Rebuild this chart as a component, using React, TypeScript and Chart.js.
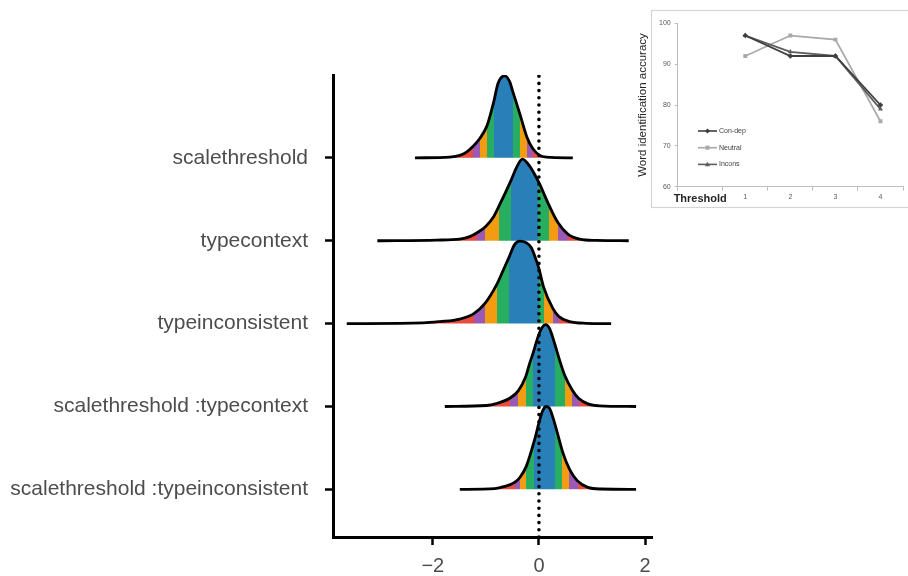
import React, { useEffect, useRef } from 'react';
import { Chart, registerables } from 'chart.js';

Chart.register(...registerables);

// ---------- main ridgeline data ----------
const CATEGORIES = [
  'scalethreshold',
  'typecontext',
  'typeinconsistent',
  'scalethreshold :typecontext',
  'scalethreshold :typeinconsistent',
];
const BASELINES = [5, 4, 3, 2, 1];
const X_TICKS = [-2, 0, 2];
const REF_X = 0;
const X_MIN = -3.88;
const X_MAX = 2.13;
const Y_MIN = 0.425;
const Y_MAX = 6.0;

const R1_X = [-2.336, -1.679, -1.491, -1.365, -1.24, -1.115, -0.977, -0.852, -0.77, -0.645, -0.551, -0.5, -0.35, -0.226, -0.113, 0.013, 0.139, 0.639];
const R1_H = [0, 0.01, 0.03, 0.07, 0.14, 0.233, 0.39, 0.675, 0.9, 0.99, 0.92, 0.815, 0.51, 0.25, 0.11, 0.03, 0.008, 0];
const R1_BANDS = [-1.245, -1.115, -0.977, -0.852, -0.495, -0.35, -0.226, -0.113];

const R2_X = [-3.045, -1.929, -1.491, -1.303, -1.158, -1.008, -0.864, -0.752, -0.532, -0.425, -0.312, -0.175, 0.0, 0.182, 0.357, 0.545, 0.765, 1.078, 1.692];
const R2_H = [0, 0.008, 0.02, 0.05, 0.1, 0.17, 0.28, 0.42, 0.72, 0.88, 0.984, 0.9, 0.7, 0.44, 0.22, 0.08, 0.02, 0.004, 0];
const R2_BANDS = [-1.16, -1.008, -0.752, -0.53, -0.025, 0.185, 0.36, 0.545];

const R3_X = [-3.621, -2.18, -1.867, -1.491, -1.227, -1.021, -0.789, -0.676, -0.564, -0.457, -0.363, -0.237, -0.143, -0.049, 0.001, 0.088, 0.264, 0.376, 0.577, 0.89, 1.36];
const R3_H = [0, 0.008, 0.024, 0.055, 0.12, 0.24, 0.48, 0.64, 0.8, 0.956, 0.996, 0.976, 0.916, 0.76, 0.66, 0.44, 0.18, 0.085, 0.024, 0.004, 0];
const R3_BANDS = [-1.227, -1.021, -0.789, -0.564, 0.0, 0.088, 0.263, 0.376];

const R4_X = [-1.773, -0.989, -0.802, -0.551, -0.394, -0.25, -0.175, -0.112, -0.018, 0.063, 0.126, 0.201, 0.295, 0.389, 0.483, 0.627, 0.752, 0.922, 1.141, 1.83];
const R4_H = [0, 0.012, 0.035, 0.1, 0.185, 0.36, 0.52, 0.64, 0.84, 0.956, 0.988, 0.94, 0.76, 0.56, 0.38, 0.2, 0.095, 0.032, 0.008, 0];
const R4_BANDS = [-0.551, -0.395, -0.25, -0.113, 0.295, 0.483, 0.628, 0.752];

const R5_X = [-1.491, -0.833, -0.645, -0.457, -0.363, -0.237, -0.081, 0.013, 0.076, 0.139, 0.201, 0.295, 0.452, 0.577, 0.721, 0.922, 1.172, 1.83];
const R5_H = [0, 0.008, 0.035, 0.085, 0.14, 0.28, 0.6, 0.835, 0.956, 1.0, 0.976, 0.8, 0.44, 0.24, 0.105, 0.024, 0.004, 0];
const R5_BANDS = [-0.457, -0.363, -0.237, -0.09, 0.31, 0.436, 0.562, 0.727];

const RIDGE_X = [R1_X, R2_X, R3_X, R4_X, R5_X];
const RIDGE_H = [R1_H, R2_H, R3_H, R4_H, R5_H];
const RIDGE_BANDS = [R1_BANDS, R2_BANDS, R3_BANDS, R4_BANDS, R5_BANDS];

const BAND_COLORS = ['#e74c3c', '#9b59b6', '#f39c12', '#27ae60', '#2980b9', '#27ae60', '#f39c12', '#9b59b6', '#e74c3c'];

// ---------- inset data ----------
const THRESHOLDS = ['Threshold', '1', '2', '3', '4'];
const CON_DEP = [null, 97, 92, 92, 80];
const NEUTRAL = [null, 92, 97, 96, 76];
const INCONS = [null, 97, 93, 92, 79];
const SERIES_NAMES = ['Con-dep', 'Neutral', 'Incons'];

const FONT = "'Liberation Sans', Arial, sans-serif";

function bandGradient(context: any, bands: number[]) {
  const chart = context.chart;
  const area = chart.chartArea;
  if (!area) return 'rgba(0,0,0,0)';
  const xs = chart.scales.x;
  const x0 = area.left;
  const x1 = area.right;
  const g = chart.ctx.createLinearGradient(x0, 0, x1, 0);
  const t = (v: number) => Math.min(1, Math.max(0, (xs.getPixelForValue(v) - x0) / (x1 - x0)));
  g.addColorStop(0, BAND_COLORS[0]);
  bands.forEach((b, i) => {
    const p = t(b);
    g.addColorStop(p, BAND_COLORS[i]);
    g.addColorStop(p, BAND_COLORS[i + 1]);
  });
  g.addColorStop(1, BAND_COLORS[BAND_COLORS.length - 1]);
  return g;
}

function drawMarker(ctx: CanvasRenderingContext2D, style: string, x: number, y: number, r: number) {
  ctx.beginPath();
  if (style === 'rectRot') {
    ctx.moveTo(x, y - r);
    ctx.lineTo(x + r, y);
    ctx.lineTo(x, y + r);
    ctx.lineTo(x - r, y);
  } else if (style === 'rect') {
    ctx.rect(x - r * 0.8, y - r * 0.8, r * 1.6, r * 1.6);
  } else {
    ctx.moveTo(x, y - r);
    ctx.lineTo(x + r, y + r * 0.7);
    ctx.lineTo(x - r, y + r * 0.7);
  }
  ctx.closePath();
  ctx.fill();
}

export default function App() {
  const mainRef = useRef<HTMLCanvasElement | null>(null);
  const insetRef = useRef<HTMLCanvasElement | null>(null);

  useEffect(() => {
    const datasets: any[] = RIDGE_X.map((xs, i) => ({
      label: CATEGORIES[i],
      data: xs.map((x, j) => ({ x, y: BASELINES[i] + RIDGE_H[i][j] })),
      borderColor: '#000',
      borderWidth: 2.8,
      pointRadius: 0,
      cubicInterpolationMode: 'monotone',
      fill: { value: BASELINES[i] },
      backgroundColor: (c: any) => bandGradient(c, RIDGE_BANDS[i]),
      order: 10 - i,
    }));
    datasets.push({
      label: 'ref',
      data: [
        { x: REF_X, y: Y_MIN },
        { x: REF_X, y: Y_MAX },
      ],
      borderColor: '#000',
      borderWidth: 3.6,
      borderDash: [0, 7.2],
      borderCapStyle: 'round',
      pointRadius: 0,
      fill: false,
      order: 0,
    });

    const main = new Chart(mainRef.current!, {
      type: 'line',
      data: { datasets },
      options: {
        animation: false,
        responsive: false,
        events: [],
        layout: { padding: { top: 75, right: 256, left: 0, bottom: 0 } },
        plugins: { legend: { display: false }, tooltip: { enabled: false } },
        scales: {
          x: {
            type: 'linear',
            min: X_MIN,
            max: X_MAX,
            afterBuildTicks: (s: any) => {
              s.ticks = X_TICKS.map((v) => ({ value: v }));
            },
            afterFit: (s: any) => {
              s.height = 39;
            },
            grid: { display: true, drawOnChartArea: false, drawTicks: true, tickLength: 8, tickWidth: 2.5, tickColor: '#000' },
            border: { display: true, color: '#000', width: 3 },
            ticks: {
              padding: 9,
              color: '#4d4d4d',
              font: { family: FONT, size: 20 },
              callback: (v: any) => (Number(v) < 0 ? '\u2212' + Math.abs(Number(v)) : String(v)),
            },
          },
          y: {
            type: 'linear',
            min: Y_MIN,
            max: Y_MAX,
            afterBuildTicks: (s: any) => {
              s.ticks = BASELINES.map((v) => ({ value: v }));
            },
            afterFit: (s: any) => {
              s.width = 333;
            },
            grid: { display: true, drawOnChartArea: false, drawTicks: true, tickLength: 8, tickWidth: 2.5, tickColor: '#000' },
            border: { display: true, color: '#000', width: 3 },
            ticks: {
              padding: 17,
              color: '#4d4d4d',
              font: { family: FONT, size: 21 },
              callback: (v: any) => {
                const idx = BASELINES.indexOf(Number(v));
                return idx >= 0 ? CATEGORIES[idx] : '';
              },
            },
          },
        },
      } as any,
    });

    const seriesStyles = [
      { data: CON_DEP, color: '#3f3f3f', point: 'rectRot' },
      { data: NEUTRAL, color: '#a9a9a9', point: 'rect' },
      { data: INCONS, color: '#5e5e5e', point: 'triangle' },
    ];

    const framePlugin = {
      id: 'frame',
      beforeDraw: (chart: any) => {
        const ctx = chart.ctx;
        ctx.save();
        ctx.fillStyle = '#ffffff';
        ctx.fillRect(23.5, 10.5, 400, 197);
        ctx.strokeStyle = '#d4d4d4';
        ctx.lineWidth = 1.2;
        ctx.strokeRect(23.5, 10.5, 400, 197);
        ctx.restore();
      },
    };

    const legendPlugin = {
      id: 'insetLegend',
      afterDatasetsDraw: (chart: any) => {
        const ctx = chart.ctx;
        ctx.save();
        chart.data.datasets.forEach((ds: any, i: number) => {
          const y = 131 + i * 16.7;
          const x0 = 70;
          const x1 = 89;
          ctx.strokeStyle = ds.borderColor;
          ctx.lineWidth = 1.6;
          ctx.beginPath();
          ctx.moveTo(x0, y);
          ctx.lineTo(x1, y);
          ctx.stroke();
          ctx.fillStyle = ds.borderColor;
          drawMarker(ctx, ds.pointStyle, (x0 + x1) / 2, y, 2.6);
          ctx.fillStyle = '#404040';
          ctx.font = `7px ${FONT}`;
          ctx.textBaseline = 'middle';
          ctx.fillText(ds.label, x1 + 2, y);
        });
        ctx.restore();
      },
    };

    const inset = new Chart(insetRef.current!, {
      type: 'line',
      data: {
        labels: THRESHOLDS,
        datasets: seriesStyles.map((s, i) => ({
          label: SERIES_NAMES[i],
          data: s.data,
          borderColor: s.color,
          backgroundColor: s.color,
          borderWidth: 1.8,
          pointStyle: s.point,
          pointRadius: 2.8,
          pointBorderWidth: 0,
          tension: 0,
          order: i === 1 ? 3 : i === 0 ? 1 : 2,
        })),
      },
      options: {
        animation: false,
        responsive: false,
        events: [],
        layout: { padding: { top: 23.3, right: 5, left: 0, bottom: 0 } },
        plugins: { legend: { display: false }, tooltip: { enabled: false } },
        scales: {
          x: {
            type: 'category',
            offset: true,
            afterFit: (s: any) => {
              s.height = 28.3;
            },
            grid: { display: true, offset: true, drawOnChartArea: false, drawTicks: true, tickLength: 4, color: '#bdbdbd' },
            border: { display: true, color: '#bdbdbd', width: 1 },
            ticks: {
              autoSkip: false,
              maxRotation: 0,
              padding: 2,
              color: (c: any) => (c.index === 0 ? '#262626' : '#595959'),
              font: (c: any) => (c.index === 0 ? { family: FONT, size: 11, weight: 'bold' } : { family: FONT, size: 7 }),
            },
          },
          y: {
            type: 'linear',
            min: 60,
            max: 100,
            afterFit: (s: any) => {
              s.width = 49.7;
            },
            title: {
              display: true,
              text: 'Word identification accuracy',
              color: '#262626',
              font: { family: FONT, size: 11.5 },
              padding: { top: 8, bottom: 0 },
            },
            grid: { display: true, drawOnChartArea: false, drawTicks: true, tickLength: 3, color: '#bdbdbd' },
            border: { display: true, color: '#bdbdbd', width: 1 },
            ticks: {
              stepSize: 10,
              padding: 4,
              color: '#595959',
              font: { family: FONT, size: 7 },
            },
          },
        },
      } as any,
      plugins: [framePlugin, legendPlugin],
    });

    return () => {
      main.destroy();
      inset.destroy();
    };
  }, []);

  return (
    <div style={{ position: 'fixed', left: 0, top: 0, width: 908, height: 576, overflow: 'hidden', background: '#fff' }}>
      <canvas ref={mainRef} width={908} height={576} style={{ position: 'absolute', left: 0, top: 0 }} />
      <canvas ref={insetRef} width={280} height={215} style={{ position: 'absolute', left: 628, top: 0 }} />
    </div>
  );
}
